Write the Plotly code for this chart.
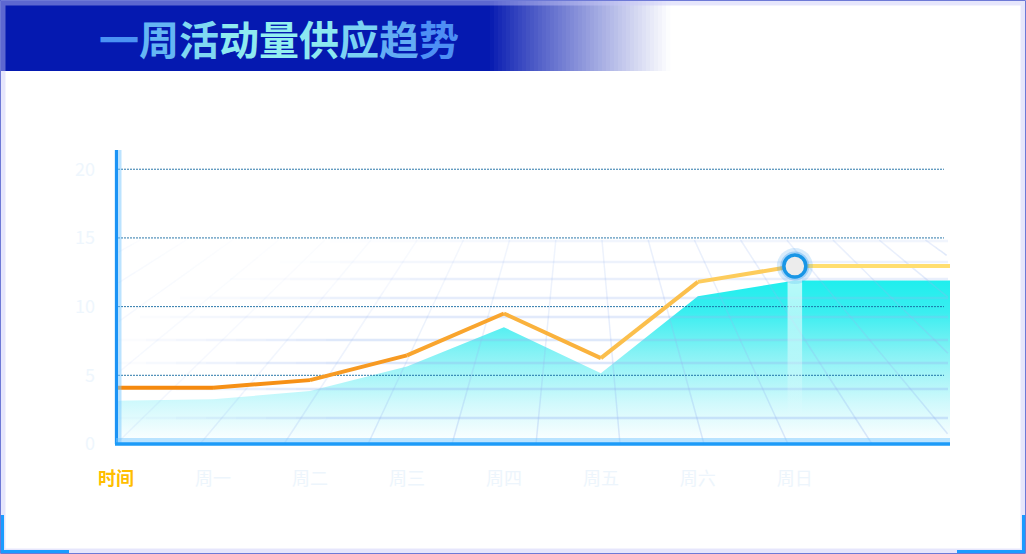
import plotly.graph_objects as go

# week supply trend
day_labels = ["时间", "周一", "周二", "周三", "周四", "周五", "周六", "周日"]
x_pos = [0, 1, 2, 3, 4, 5, 6, 7, 8.6]          # last point is the flat tail after 周日
supply = [4.1, 4.1, 4.65, 6.45, 9.5, 6.25, 11.8, 12.95, 12.95]
shadow = [3.15, 3.25, 3.85, 5.65, 8.5, 5.15, 10.75, 11.9, 11.9]
y_ticks = [0, 5, 10, 15, 20]
peak_idx = 7

W, H = 1026, 554
L, R, T, B = 116, 950, 150, 444
X_MAX, Y_MAX = 8.6, 21.4


def px(x):
    return (x - L) / (R - L)


def py(y):
    return (B - y) / (B - T)


def to_dx(x):
    return (x - L) / (R - L) * X_MAX


def to_dy(y):
    return (B - y) / (B - T) * Y_MAX


def mix(c1, c2, t):
    return "rgb(%d,%d,%d)" % tuple(round(a + (b - a) * t) for a, b in zip(c1, c2))


def deco_line(fig, x0, y0, x1, y1, a, width):
    fig.add_trace(go.Scatter(x=[to_dx(x0), to_dx(x1)], y=[to_dy(y0), to_dy(y1)], mode="lines",
                             line=dict(color="rgba(150,180,240,%.3f)" % a, width=width),
                             hoverinfo="skip", showlegend=False))


fig = go.Figure()

# shadow area with vertical gradient
fig.add_trace(go.Scatter(
    x=x_pos, y=shadow, mode="lines", line=dict(width=0),
    fill="tozeroy",
    fillgradient=dict(type="vertical", start=0, stop=12,
                      colorscale=[[0, "rgba(255,255,255,1)"], [0.25, "#d0f9fc"],
                                  [0.55, "#86f2f5"], [0.8, "#3aeef0"], [1, "#1eeeed"]]),
    hoverinfo="skip", showlegend=False))

# perspective floor grid (decoration), fading to the upper left
h_rows = [(241, 330, 0.13), (262, 280, 0.17), (279, 230, 0.21), (298, 180, 0.25),
          (317, 140, 0.28), (340, 116, 0.31), (363, 116, 0.33), (389, 116, 0.35), (418, 116, 0.35)]
n_seg = 8
for yy, x0, a in h_rows:
    fade_len = 240
    for s in range(n_seg):
        xa = x0 + fade_len * s / n_seg
        xb_ = x0 + fade_len * (s + 1) / n_seg
        deco_line(fig, xa, yy, xb_, yy, a * (s + 1) / n_seg, 2.5)
    deco_line(fig, x0 + fade_len, yy, 948, yy, a, 2.5)

for xb in range(-220, 1400, 84):
    xt = 580 + (xb - 580) * 0.55
    yb, yt = 444, 240
    pts = []
    for t in [i / 200 for i in range(201)]:
        xx = xb + (xt - xb) * t
        if 118 <= xx <= 948:
            pts.append((xx, yb + (yt - yb) * t))
    if len(pts) < 2:
        continue
    (sx, sy), (ex, ey) = pts[0], pts[-1]
    left_fade = min(1.0, max(0.3, (xb + 100) / 500))
    for s in range(n_seg):
        f0, f1 = s / n_seg, (s + 1) / n_seg
        a = 0.3 * (1 - 0.8 * f0 * (1 - 0.5 * min(1, max(0, (xb - 300) / 400)))) * left_fade
        deco_line(fig, sx + (ex - sx) * f0, sy + (ey - sy) * f0,
                  sx + (ex - sx) * f1, sy + (ey - sy) * f1, a, 1.5)

# dotted value gridlines
for v in y_ticks[1:]:
    fig.add_trace(go.Scatter(x=[to_dx(118), to_dx(944)], y=[v, v], mode="lines",
                             line=dict(color="rgba(20,105,160,0.9)", width=1, dash="2px,1px"),
                             hoverinfo="skip", showlegend=False))

# white glow column under the peak point
bw = 0.075
fig.add_trace(go.Scatter(
    x=[x_pos[peak_idx] - bw, x_pos[peak_idx] + bw, x_pos[peak_idx] + bw, x_pos[peak_idx] - bw],
    y=[0, 0, supply[peak_idx], supply[peak_idx]],
    mode="lines", line=dict(width=0), fill="toself",
    fillgradient=dict(type="vertical", start=2, stop=supply[peak_idx],
                      colorscale=[[0, "rgba(255,255,255,0)"], [0.5, "rgba(255,255,255,0.45)"],
                                  [1, "rgba(255,255,255,0.75)"]]),
    hoverinfo="skip", showlegend=False))

# supply line, orange -> yellow
c_start, c_end = (245, 134, 10), (255, 222, 112)
for i in range(len(x_pos) - 1):
    t = ((x_pos[i] + x_pos[i + 1]) / 2 / X_MAX) ** 1.3
    fig.add_trace(go.Scatter(x=x_pos[i:i + 2], y=supply[i:i + 2], mode="lines",
                             line=dict(color=mix(c_start, c_end, min(1, t * 1.15)), width=4),
                             hoverinfo="skip", showlegend=False))

# highlighted point on 周日
fig.add_trace(go.Scatter(x=[x_pos[peak_idx]], y=[supply[peak_idx]], mode="markers",
                         marker=dict(size=36, color="rgba(40,150,240,0.18)"),
                         hoverinfo="skip", showlegend=False))
fig.add_trace(go.Scatter(x=[x_pos[peak_idx]], y=[supply[peak_idx]], mode="markers",
                         marker=dict(size=29, color="rgba(40,150,240,0.3)"),
                         hoverinfo="skip", showlegend=False))
fig.add_trace(go.Scatter(x=[x_pos[peak_idx]], y=[supply[peak_idx]], mode="markers",
                         marker=dict(size=22, color="#ececec", line=dict(color="#1996e6", width=3.5)),
                         showlegend=False))

tick_text = ["<b><span style='color:#ffbe00'>%s</span></b>" % day_labels[0]] + day_labels[1:]

fig.update_xaxes(range=[0, X_MAX], tickvals=x_pos[:len(day_labels)], ticktext=tick_text,
                 showgrid=False, zeroline=False, showline=False, ticks="",
                 ticklabelstandoff=22,
                 tickfont=dict(size=18, color="#edf5fc", family="Noto Sans CJK SC"))
fig.update_yaxes(range=[0, Y_MAX], tickvals=y_ticks, showgrid=False, zeroline=False,
                 showline=False, ticks="", ticklabelstandoff=20,
                 tickfont=dict(size=18, color="#eef6fd", family="Noto Sans CJK SC"))

shapes = []
# axis lines with glow
shapes.append(dict(type="line", xref="paper", yref="paper", x0=px(118), x1=px(118), y0=py(150), y1=py(444),
                   line=dict(color="rgba(120,200,255,0.5)", width=7)))
shapes.append(dict(type="line", xref="paper", yref="paper", x0=px(116.5), x1=px(116.5), y0=py(150), y1=py(445),
                   line=dict(color="#1b93f5", width=3)))
shapes.append(dict(type="line", xref="paper", yref="paper", x0=px(116), x1=px(950), y0=py(441), y1=py(441),
                   line=dict(color="rgba(120,200,255,0.5)", width=6)))
shapes.append(dict(type="line", xref="paper", yref="paper", x0=px(115), x1=px(950), y0=py(444), y1=py(444),
                   line=dict(color="#1c9bf8", width=3.5)))

# title banner: solid navy then fading to white
shapes.append(dict(type="rect", xref="paper", yref="paper", x0=px(0), x1=px(492), y0=py(0), y1=py(71),
                   fillcolor="#0519b0", line=dict(width=0), layer="below"))
navy, white = (5, 25, 176), (255, 255, 255)
steps = 45
for k in range(steps):
    x0 = 490 + k * 4
    t = (k + 0.5) / steps
    shapes.append(dict(type="rect", xref="paper", yref="paper", x0=px(x0), x1=px(x0 + 4.5),
                       y0=py(0), y1=py(71), fillcolor=mix(navy, white, t ** 0.9),
                       line=dict(width=0), layer="below"))

# outer frame and bottom corner brackets
shapes.append(dict(type="rect", xref="paper", yref="paper", x0=px(3), x1=px(1023), y0=py(3), y1=py(551),
                   line=dict(color="rgba(200,200,248,0.45)", width=5)))
shapes.append(dict(type="rect", xref="paper", yref="paper", x0=px(0.5), x1=px(1025.5), y0=py(0.5), y1=py(553.5),
                   line=dict(color="#6d79d6", width=1)))
for path in ["M %f %f L %f %f L %f %f" % (px(2.5), py(515), px(2.5), py(551.5), px(69), py(551.5)),
             "M %f %f L %f %f L %f %f" % (px(957), py(551.5), px(1023.5), py(551.5), px(1023.5), py(515))]:
    shapes.append(dict(type="path", xref="paper", yref="paper", path=path,
                       line=dict(color="#1a9cff", width=3)))

title_chars = list("一周活动量供应趋势")
title_cols = ["#4b92f4", "#64b6f4", "#7fd8f2", "#8eeaf0", "#93f0f0", "#8ce8f0", "#7bd2f3", "#63adf4", "#4d8ff4"]
title_html = "<b>" + "".join("<span style='color:%s'>%s</span>" % (c, ch)
                             for ch, c in zip(title_chars, title_cols)) + "</b>"

fig.update_layout(
    width=W, height=H,
    margin=dict(l=L, r=W - R, t=T, b=H - B),
    paper_bgcolor="white", plot_bgcolor="rgba(0,0,0,0)",
    shapes=shapes,
    annotations=[dict(text=title_html, xref="paper", yref="paper", x=px(279), y=py(38),
                      xanchor="center", yanchor="middle", showarrow=False,
                      font=dict(size=40, family="Noto Sans CJK SC"))],
    showlegend=False,
)

# drop the default body margin so the chart sits at 0,0 in the window
fig.write_html("out.html", config={"displayModeBar": False},
               post_script="document.body.style.margin='0';")
